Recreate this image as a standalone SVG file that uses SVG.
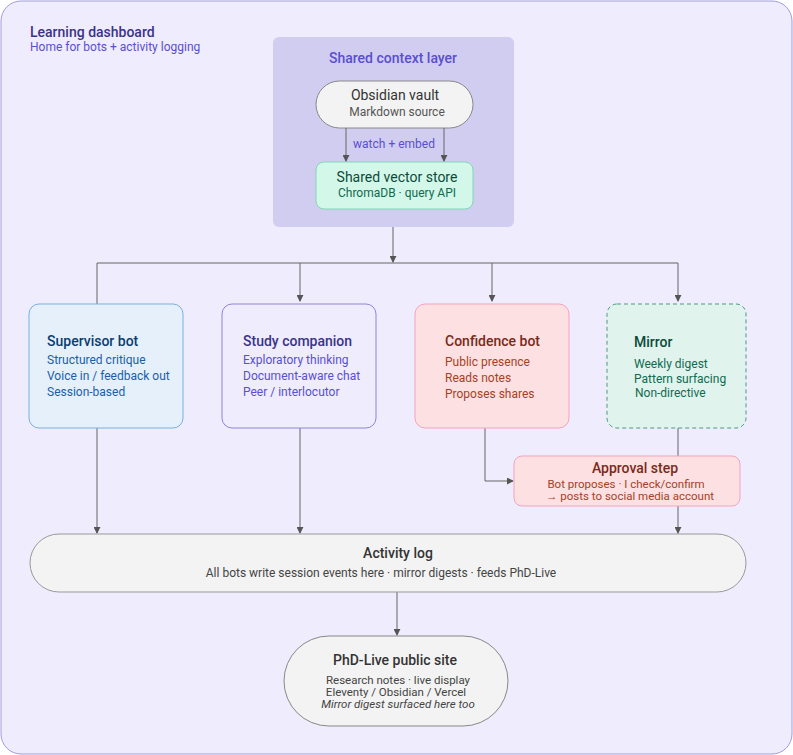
<svg xmlns="http://www.w3.org/2000/svg" width="793" height="755" viewBox="0 0 793 755">
<style>
text{font-family:Roboto,"Liberation Sans",sans-serif;}
.c{stroke:#666;stroke-width:1;fill:none;}
.t{font-size:14px;font-weight:500;}
.s{font-size:12px;}
.n{font-size:11.5px;}
</style>
<defs><marker id="a" viewBox="0 0 8 8" refX="7" refY="4" markerWidth="7" markerHeight="7" orient="auto"><path d="M0,0L8,4L0,8z" fill="#555"/></marker></defs>
<rect x="1" y="1" width="791" height="753" rx="20" fill="#eeecfd" stroke="#a09ce0"/>
<text x="30" y="37" class="t" font-size="13" fill="#3b3486">Learning dashboard</text>
<text x="30" y="51" class="s" fill="#5a4fcf">Home for bots + activity logging</text>
<g id="context"><rect x="273" y="37" width="241" height="190" rx="6" fill="#d0cdf0"/>
<text x="393" y="63" text-anchor="middle" class="t" fill="#5a4fcf">Shared context layer</text></g>
<g id="vault"><rect x="316" y="81" width="157" height="47" rx="23.5" fill="#f3f3f3" stroke="#888"/>
<text x="395" y="100" text-anchor="middle" font-size="14" fill="#333">Obsidian vault</text>
<text x="397" y="116" text-anchor="middle" class="s" fill="#555">Markdown source</text></g>
<g id="vector"><rect x="316" y="162" width="157" height="47" rx="8" fill="#d3f7e9" stroke="#7fd9b5"/>
<text x="397" y="182" text-anchor="middle" font-size="14" fill="#0d4a3a">Shared vector store</text>
<text x="397" y="197" text-anchor="middle" class="s" fill="#0f6b50">ChromaDB · query API</text></g>
<g id="connectors">
<path class="c" d="M346,128V161" marker-end="url(#a)"/>
<path class="c" d="M444,128V161" marker-end="url(#a)"/>
<text x="394" y="148" text-anchor="middle" class="s" fill="#5a4fcf">watch + embed</text>
<path class="c" d="M393,227V262" marker-end="url(#a)"/>
<path class="c" d="M97,304V263H678"/>
<path class="c" d="M300,263V301" marker-end="url(#a)"/>
<path class="c" d="M492,263V301" marker-end="url(#a)"/>
<path class="c" d="M678,263V301" marker-end="url(#a)"/>
<path class="c" d="M485,428V481H513" marker-end="url(#a)"/>
<path class="c" d="M678,428V456"/>
<path class="c" d="M678,506V533" marker-end="url(#a)"/>
<path class="c" d="M97,428V533" marker-end="url(#a)"/>
<path class="c" d="M300,428V533" marker-end="url(#a)"/>
<path class="c" d="M397,592V635" marker-end="url(#a)"/>
</g>
<g id="supervisor"><rect x="29" y="304" width="154" height="124" rx="10" fill="#e6f0fb" stroke="#7ab0e0"/>
<text x="47" y="346" class="t" fill="#0b3d6e">Supervisor bot</text>
<text x="47" y="364" class="s" fill="#1a5ea8">Structured critique</text>
<text x="47" y="380" class="s" fill="#1a5ea8">Voice in / feedback out</text>
<text x="47" y="396" class="s" fill="#1a5ea8">Session-based</text></g>
<g id="study"><rect x="222" y="304" width="154" height="124" rx="10" fill="#eeecfd" stroke="#8f86d9"/>
<text x="243" y="346" class="t" fill="#3b3486">Study companion</text>
<text x="243" y="364" class="s" fill="#5a4fcf">Exploratory thinking</text>
<text x="243" y="380" class="s" fill="#5a4fcf">Document-aware chat</text>
<text x="243" y="396" class="s" fill="#5a4fcf">Peer / interlocutor</text></g>
<g id="confidence"><rect x="415" y="304" width="154" height="124" rx="10" fill="#fde0e2" stroke="#f5a3c0"/>
<text x="445" y="346" class="t" fill="#7a2a1a">Confidence bot</text>
<text x="445" y="366" class="s" fill="#a8401f">Public presence</text>
<text x="445" y="382" class="s" fill="#a8401f">Reads notes</text>
<text x="445" y="398" class="s" fill="#a8401f">Proposes shares</text></g>
<g id="mirror"><rect x="607" y="304" width="139" height="124" rx="10" fill="#e0f3ed" stroke="#4a9a80" stroke-dasharray="4 3"/>
<text x="634" y="347" class="t" fill="#0d4a3a">Mirror</text>
<text x="634" y="368" class="s" fill="#0f6b50">Weekly digest</text>
<text x="634" y="383" class="s" fill="#0f6b50">Pattern surfacing</text>
<text x="635" y="397" class="s" fill="#0f6b50">Non-directive</text></g>
<g id="approval"><rect x="514" y="456" width="226" height="50" rx="8" fill="#fde0e2" stroke="#f5a3c0"/>
<text x="635" y="473" text-anchor="middle" class="t" font-size="13" fill="#7a2a1a">Approval step</text>
<text x="626" y="488" text-anchor="middle" class="n" fill="#a8401f">Bot proposes · I check/confirm</text>
<text x="630" y="500" text-anchor="middle" class="n" fill="#a8401f">→ posts to social media account</text></g>
<g id="activity"><rect x="30" y="534" width="716" height="58" rx="29" fill="#f3f3f3" stroke="#999"/>
<text x="398" y="558" text-anchor="middle" class="t" font-size="13" fill="#333">Activity log</text>
<text x="381" y="577" text-anchor="middle" class="s" fill="#444">All bots write session events here · mirror digests · feeds PhD-Live</text></g>
<g id="phdlive"><rect x="284" y="636" width="224" height="90" rx="45" fill="#f3f3f3" stroke="#888"/>
<text x="395" y="665" text-anchor="middle" class="t" font-size="13" fill="#333">PhD-Live public site</text>
<text x="398" y="684" text-anchor="middle" class="n" fill="#444">Research notes · live display</text>
<text x="396" y="696" text-anchor="middle" class="n" fill="#444">Eleventy / Obsidian / Vercel</text>
<text x="398" y="708" text-anchor="middle" class="n" font-style="italic" fill="#444">Mirror digest surfaced here too</text></g>
</svg>
